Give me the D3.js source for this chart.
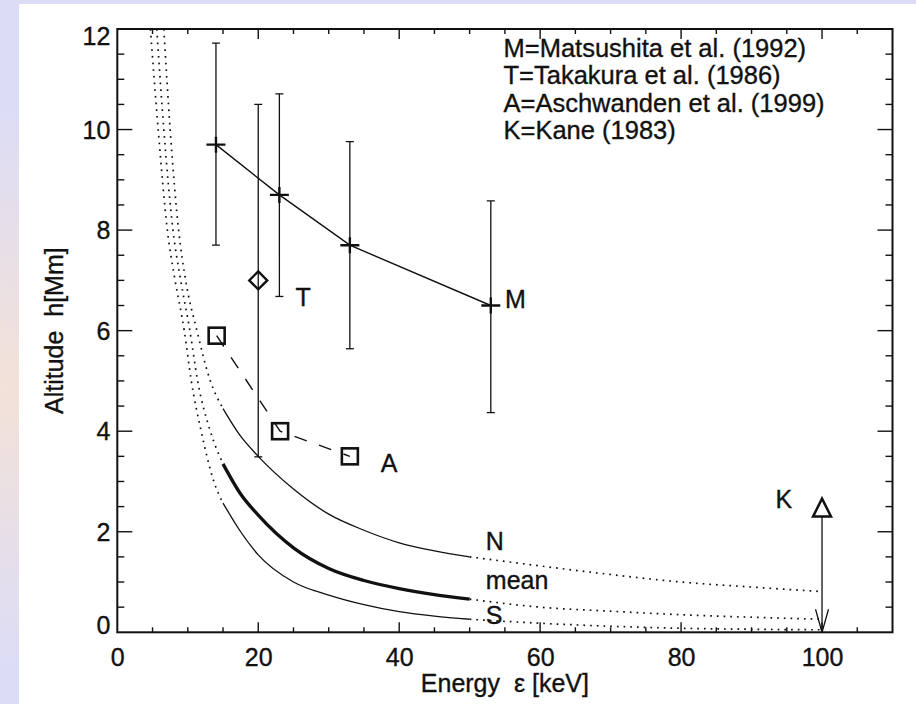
<!DOCTYPE html>
<html>
<head>
<meta charset="utf-8">
<script src="https://cdn.jsdelivr.net/npm/d3@7"></script>
<style>
  html, body { margin: 0; padding: 0; background: #dcdcf6; }
  svg { display: block; }
  text { font-family: "Liberation Sans", Arial, Helvetica, sans-serif; fill: #111; stroke: #111; stroke-width: 0.35px; }
</style>
</head>
<body>
<svg id="chart" width="916" height="704"></svg>
<script>
// ---------------- data ----------------
const xMajorTicks = [0, 20, 40, 60, 80, 100];
const yMajorTicks = [0, 2, 4, 6, 8, 10, 12];

// Matsushita et al. (1992)
const mEnergy = [14, 23, 33, 53];
const mHeight = [9.7, 8.7, 7.7, 6.5];
const mLow    = [7.7, 6.68, 5.64, 4.37];
const mHigh   = [11.72, 10.71, 9.76, 8.58];
// Takakura et al. (1986)
const tEnergy = [20];
const tHeight = [7.0];
const tLow    = [3.49];
const tHigh   = [10.5];
// Aschwanden et al. (1999)
const aEnergy = [14.1, 23.1, 33.0];
const aHeight = [5.9, 4.0, 3.5];
// Kane (1983)
const kEnergy = [100];
const kHeight = [2.48];
const kLow    = [0];

// model curves N, mean, S
const nEnergy = [6.6, 7.5, 8.7, 9.7, 11.3, 13.2, 15, 17.5, 20, 25, 30, 35, 40, 45, 50, 55, 60, 70, 80, 90, 100];
const nHeight = [12, 10, 8, 7, 6, 5, 4.45, 3.9, 3.5, 2.85, 2.35, 2.03, 1.78, 1.62, 1.5, 1.41, 1.32, 1.15, 1.0, 0.9, 0.81];
const meanEnergy = [5.6, 6.6, 7.9, 9.0, 10.3, 11.4, 13.2, 15, 17.5, 20, 25, 30, 35, 40, 45, 50, 60, 70, 80, 90, 100];
const meanHeight = [12, 10, 8, 7, 6, 5, 4, 3.35, 2.75, 2.33, 1.68, 1.27, 1.03, 0.87, 0.75, 0.66, 0.5, 0.42, 0.35, 0.3, 0.26];
const sEnergy = [4.7, 5.8, 7.1, 8.2, 9.5, 10.5, 11.9, 13.7, 15, 17.5, 20, 25, 30, 35, 40, 45, 50, 60, 70, 80, 90, 100];
const sHeight = [12, 10, 8, 7, 6, 5, 4, 3, 2.57, 2.0, 1.54, 1.0, 0.74, 0.55, 0.41, 0.32, 0.26, 0.18, 0.12, 0.08, 0.06, 0.05];
const solidRange = [15, 50];

const legendLines = [
  "M=Matsushita et al. (1992)",
  "T=Takakura et al. (1986)",
  "A=Aschwanden et al. (1999)",
  "K=Kane (1983)"
];
// annotation letters [text, energy, height]
const labelText   = ["M", "T", "A", "K", "N", "mean", "S"];
const labelEnergy = [55.0, 25.3, 37.4, 93.4, 52.3, 52.3, 52.3];
const labelHeight = [6.45, 6.49, 3.19, 2.48, 1.64, 0.87, 0.17];

// ---------------- layout ----------------
const W = 916, H = 704;
const margin = { left: 117.3, right: W - 892.5, top: 29, bottom: H - 632.3 };
const svg = d3.select("#chart");

// background
const defs = svg.append("defs");
const grad = defs.append("radialGradient").attr("id", "bgGlow").attr("cx", "0%").attr("cy", "55%").attr("r", "40%");
grad.append("stop").attr("offset", "0%").attr("stop-color", "#f3e2d8");
grad.append("stop").attr("offset", "100%").attr("stop-color", "#dcdcf6");
svg.append("rect").attr("width", W).attr("height", H).attr("fill", "url(#bgGlow)");
svg.append("rect").attr("x", 19).attr("y", 4).attr("width", W - 19).attr("height", H - 4).attr("fill", "#ffffff");

const x = d3.scaleLinear().domain([0, 110]).range([margin.left, W - margin.right]);
const y = d3.scaleLinear().domain([0, 12]).range([H - margin.bottom, margin.top]);

defs.append("clipPath").attr("id", "plotClip").append("rect")
  .attr("x", x(0)).attr("y", y(12)).attr("width", x(110) - x(0)).attr("height", y(0) - y(12));

const plot = svg.append("g").attr("clip-path", "url(#plotClip)");

// ---------------- curves ----------------
function curve(es, hs, style) {
  const pts = es.map((e, i) => [e, hs[i]]);
  const line = d3.line().x(d => x(d[0])).y(d => y(d[1])).curve(d3.curveMonotoneX);
  const left = pts.filter(p => p[0] <= solidRange[0]);
  const mid = pts.filter(p => p[0] >= solidRange[0] && p[0] <= solidRange[1]);
  const right = pts.filter(p => p[0] >= solidRange[1]);
  [left, right].forEach(seg => {
    plot.append("path").attr("d", line(seg)).attr("fill", "none")
      .attr("stroke", "#111").attr("stroke-width", 1.7).attr("stroke-dasharray", "1.7,5");
  });
  plot.append("path").attr("d", line(mid)).attr("fill", "none")
    .attr("stroke", "#111").attr("stroke-width", style.w);
}
curve(nEnergy, nHeight, { w: 1.3 });
curve(meanEnergy, meanHeight, { w: 3.3 });
curve(sEnergy, sHeight, { w: 1.3 });

// ---------------- error bars ----------------
function errBars(es, lo, hi) {
  es.forEach((e, i) => {
    const g = plot.append("g").attr("stroke", "#111").attr("stroke-width", 1.3);
    g.append("line").attr("x1", x(e)).attr("x2", x(e)).attr("y1", y(lo[i])).attr("y2", y(hi[i]));
    [lo[i], hi[i]].forEach(v => {
      g.append("line").attr("x1", x(e) - 4).attr("x2", x(e) + 4).attr("y1", y(v)).attr("y2", y(v));
    });
  });
}
errBars(mEnergy, mLow, mHigh);
errBars(tEnergy, tLow, tHigh);

// Matsushita line + crosses
plot.append("path")
  .attr("d", d3.line().x((d, i) => x(mEnergy[i])).y((d, i) => y(mHeight[i]))(mEnergy))
  .attr("fill", "none").attr("stroke", "#111").attr("stroke-width", 1.4);
mEnergy.forEach((e, i) => {
  const cx = x(e), cy = y(mHeight[i]);
  plot.append("path").attr("d", `M${cx - 9.5},${cy}H${cx + 9.5}M${cx},${cy - 8}V${cy + 8}`)
    .attr("stroke", "#111").attr("stroke-width", 2.4).attr("fill", "none");
});

// Takakura diamond
tEnergy.forEach((e, i) => {
  const cx = x(e), cy = y(tHeight[i]);
  plot.append("path").attr("d", `M${cx},${cy - 9}L${cx + 9},${cy}L${cx},${cy + 9}L${cx - 9},${cy}Z`)
    .attr("fill", "none").attr("stroke", "#111").attr("stroke-width", 2.4);
});

// Aschwanden dashed line + squares
plot.append("path")
  .attr("d", d3.line().x((d, i) => x(aEnergy[i])).y((d, i) => y(aHeight[i]))(aEnergy))
  .attr("fill", "none").attr("stroke", "#111").attr("stroke-width", 1.4).attr("stroke-dasharray", "13,13");
aEnergy.forEach((e, i) => {
  const cx = x(e), cy = y(aHeight[i]);
  plot.append("rect").attr("x", cx - 8).attr("y", cy - 8).attr("width", 16).attr("height", 16)
    .attr("fill", "none").attr("stroke", "#111").attr("stroke-width", 2.6);
});

// Kane triangle + arrow
kEnergy.forEach((e, i) => {
  const cx = x(e), cy = y(kHeight[i]);
  plot.append("path").attr("d", `M${cx},${cy - 9}L${cx + 9},${cy + 9}L${cx - 9},${cy + 9}Z`)
    .attr("fill", "none").attr("stroke", "#111").attr("stroke-width", 2.5);
  const yb = y(kLow[i]);
  plot.append("line").attr("x1", cx).attr("x2", cx).attr("y1", cy + 9).attr("y2", yb)
    .attr("stroke", "#111").attr("stroke-width", 1.3);
  plot.append("path").attr("d", `M${cx - 6.5},${yb - 23}L${cx},${yb}L${cx + 6.5},${yb - 23}`)
    .attr("fill", "none").attr("stroke", "#111").attr("stroke-width", 1.3);
});

// ---------------- frame & ticks ----------------
const frame = svg.append("g");
frame.append("rect").attr("x", x(0)).attr("y", y(12)).attr("width", x(110) - x(0)).attr("height", y(0) - y(12))
  .attr("fill", "none").attr("stroke", "#111").attr("stroke-width", 2);

const bottom = d3.axisBottom(x).tickValues(xMajorTicks).tickSize(0).tickPadding(16).tickFormat(d3.format("d"));
const gx = svg.append("g").attr("transform", `translate(0,${y(0)})`).call(bottom);
gx.select(".domain").remove();
gx.selectAll("text").attr("font-size", 25).attr("font-family", "Liberation Sans, Arial, sans-serif").attr("fill", "#111");

const left = d3.axisLeft(y).tickValues(yMajorTicks).tickSize(0).tickPadding(7).tickFormat(d3.format("d"));
const gy = svg.append("g").attr("transform", `translate(${x(0)},0)`).call(left);
gy.select(".domain").remove();
gy.selectAll("text").attr("font-size", 25).attr("font-family", "Liberation Sans, Arial, sans-serif").attr("fill", "#111")
  .attr("dy", d => d === 0 ? "0.05em" : d === 12 ? "0.6em" : "0.34em");

const xMinor = d3.range(5, 110, 5);
const yMinor = d3.range(0.5, 12, 0.5);
const tg = svg.append("g").attr("stroke", "#111").attr("stroke-width", 1.4);
xMinor.forEach(v => {
  const len = v % 20 === 0 ? 10 : 5;
  tg.append("line").attr("x1", x(v)).attr("x2", x(v)).attr("y1", y(0)).attr("y2", y(0) - len);
  tg.append("line").attr("x1", x(v)).attr("x2", x(v)).attr("y1", y(12)).attr("y2", y(12) + len);
});
yMinor.forEach(v => {
  const len = v % 2 === 0 ? 15 : 7;
  tg.append("line").attr("x1", x(0)).attr("x2", x(0) + len).attr("y1", y(v)).attr("y2", y(v));
  tg.append("line").attr("x1", x(110)).attr("x2", x(110) - len).attr("y1", y(v)).attr("y2", y(v));
});

// axis titles
svg.append("text").attr("x", (x(0) + x(110)) / 2).attr("y", 692).attr("text-anchor", "middle")
  .attr("font-size", 25).style("white-space", "pre").text("Energy  \u03b5 [keV]");
svg.append("text").attr("transform", `translate(63,${(y(0) + y(12)) / 2}) rotate(-90)`)
  .attr("text-anchor", "middle").attr("font-size", 25).style("white-space", "pre").text("Altitude  h[Mm]");

// legend
legendLines.forEach((t, i) => {
  svg.append("text").attr("x", 503.5).attr("y", 57 + i * 27.3).attr("font-size", 25.5).text(t);
});

// annotation letters
labelText.forEach((t, i) => {
  svg.append("text").attr("x", x(labelEnergy[i])).attr("y", y(labelHeight[i])).attr("font-size", 25).text(t);
});
</script>
</body>
</html>
